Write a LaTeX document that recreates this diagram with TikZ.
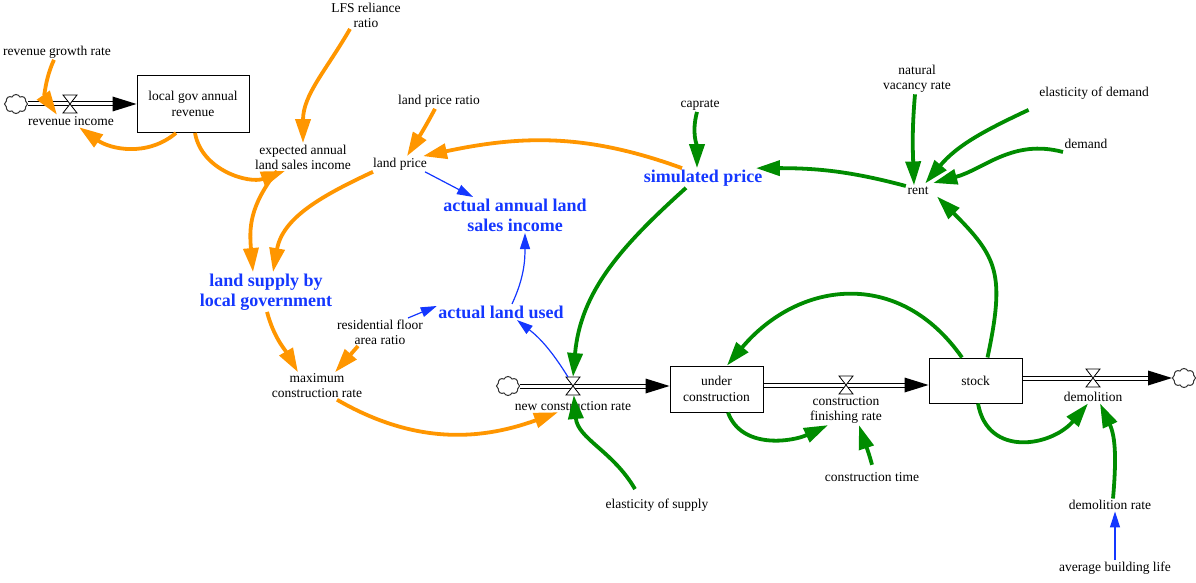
\documentclass[tikz,border=0pt]{standalone}
\usepackage{fontspec}
\setmainfont{Liberation Serif}
\usetikzlibrary{arrows.meta,shapes.symbols}
\definecolor{vorange}{RGB}{255,150,0}
\definecolor{vgreen}{RGB}{0,140,0}
\definecolor{vblue}{RGB}{20,55,255}
\tikzset{
 lbl/.style={font=\fontsize{13.5}{15}\selectfont, align=center, inner sep=1.5pt},
 blbl/.style={font=\fontsize{18}{20}\selectfont\bfseries, text=vblue, align=center, inner sep=1.5pt},
 stockbox/.style={draw, line width=1pt, font=\fontsize{13.5}{16}\selectfont, align=center},
 valve/.style={minimum width=14pt, minimum height=18pt, inner sep=0pt, outer sep=0pt},
 vcloud/.style={cloud, draw=black!80, cloud puffs=8, cloud puff arc=130, aspect=1.15, minimum width=23pt, minimum height=19pt, inner sep=0pt, line width=1pt},
 pipe/.style={double=white, double distance=3pt, line width=1pt},
 oarr/.style={draw=vorange, line width=3.8pt, -{Triangle[length=24pt,width=15pt]}},
 garr/.style={draw=vgreen, line width=3.8pt, -{Triangle[length=24pt,width=15pt]}},
 barr/.style={draw=vblue, line width=1.2pt, -{Triangle[length=16pt,width=10pt]}},
}
\begin{document}
\begin{tikzpicture}[x=1pt,y=1pt]
\useasboundingbox (0,0) rectangle (1196,582);
% labels
\node[lbl] (rgr) at (57,530) {revenue growth rate};
\node[lbl] (ri) at (71,461) {revenue income};
\node[stockbox, minimum width=112pt, minimum height=57pt] (lgar) at (193,478) {local gov annual\\revenue};
\node[lbl] (LFS) at (366,567) {LFS reliance\\ratio};
\node[lbl] (eal) at (303,425) {expected annual\\land sales income};
\node[lbl] (lpr) at (439,481) {land price ratio};
\node[lbl] (lp) at (400,418) {land price};
\node[lbl] (caprate) at (700,477) {caprate};
\node[blbl] (sp) at (703,404) {simulated price};
\node[lbl] (nvr) at (917,503) {natural\\vacancy rate};
\node[lbl] (eod) at (1094,489) {elasticity of demand};
\node[lbl] (demand) at (1086,438) {demand};
\node[lbl] (rent) at (918,391) {rent};
\node[blbl] (aals) at (515,367) {actual annual land\\sales income};
\node[blbl] (lsg) at (266,290) {land supply by\\local government};
\node[blbl] (alu) at (501,270) {actual land used};
\node[lbl] (rfar) at (380,250) {residential floor\\area ratio};
\node[lbl] (mcr) at (317,196) {maximum\\construction rate};
\node[lbl] (ncr) at (573,176) {new construction rate};
\node[stockbox, minimum width=93pt, minimum height=46pt] (uc) at (716.5,193) {under\\construction};
\node[lbl] (cfr) at (846,172) {construction\\finishing rate};
\node[stockbox, minimum width=93pt, minimum height=45pt] (stock) at (975.5,201.5) {stock};
\node[lbl] (dem) at (1093,185) {demolition};
\node[lbl] (ct) at (872,105) {construction time};
\node[lbl] (eos) at (657,77) {elasticity of supply};
\node[lbl] (dr) at (1110,77) {demolition rate};
\node[lbl] (abl) at (1115,14) {average building life};
% valves and clouds
\node[valve] (v1) at (70,478) {};
\node[valve] (v2) at (573,196) {};
\node[valve] (v3) at (846,197) {};
\node[valve] (v4) at (1093,204) {};
\node[vcloud] (cloud1) at (16,478) {};
\node[vcloud] (cloud2) at (508,196) {};
\node[vcloud] (cloud3) at (1184,204) {};
\coordinate (uc-in) at (uc.west |- v2);
\coordinate (uc-out) at (uc.east |- v3);
\coordinate (st-in) at (stock.west |- v3);
\coordinate (st-out) at (stock.east |- v4);
% pipes
\draw[pipe] (cloud1.east) -- ([xshift=-20pt]lgar.west);
\fill ([shift={(-24pt,7.5pt)}]lgar.west) -- (lgar.west) -- ([shift={(-24pt,-7.5pt)}]lgar.west) -- cycle;
\draw[pipe] (cloud2.east) -- ([xshift=-20pt]uc-in);
\fill ([shift={(-24pt,7.5pt)}]uc-in) -- (uc-in) -- ([shift={(-24pt,-7.5pt)}]uc-in) -- cycle;
\draw[pipe] (uc-out) -- ([xshift=-20pt]st-in);
\fill ([shift={(-24pt,7.5pt)}]st-in) -- (st-in) -- ([shift={(-24pt,-7.5pt)}]st-in) -- cycle;
\draw[pipe] (st-out) -- ([xshift=-20pt]cloud3.west);
\fill ([shift={(-24pt,7.5pt)}]cloud3.west) -- (cloud3.west) -- ([shift={(-24pt,-7.5pt)}]cloud3.west) -- cycle;
\foreach \v in {v1,v2,v3,v4}
  \filldraw[fill=white, line width=0.8pt] (\v.north west) -- (\v.north east) -- (\v.south west) -- (\v.south east) -- cycle;
% orange links
\draw[oarr] ([xshift=-3pt]rgr.south) to[out=245,in=125] ([xshift=-14pt]ri.north);
\draw[oarr] ([xshift=-17pt]lgar.south) to[out=220,in=-35] ([xshift=8pt]ri.south);
\draw[oarr] ([xshift=2pt]lgar.south) to[out=-80,in=200] ([xshift=-18pt]eal.south);
\draw[oarr] ([xshift=-16pt]LFS.south) to[out=240,in=90] (eal.north);
\draw[oarr] ([xshift=-26pt]eal.south) to[out=232,in=95,looseness=1.1] ([xshift=-13pt]lsg.north);
\draw[oarr] ([xshift=-27pt]lp.south) to[out=205,in=80] ([xshift=7pt]lsg.north);
\draw[oarr] ([xshift=-4pt]lpr.south) to[out=242,in=58] ([xshift=7pt]lp.north);
\draw[oarr] ([xshift=-21pt]sp.north) to[out=160,in=12] ([xshift=23pt]lp.north);
\draw[oarr] ([xshift=1pt]lsg.south) to[out=-75,in=120] ([xshift=-19pt]mcr.north);
\draw[oarr] ([xshift=-22pt]rfar.south) -- ([xshift=18pt]mcr.north);
\draw[oarr] ([xshift=20pt]mcr.south) to[out=-30,in=200] ([xshift=-15pt]ncr.south);
% blue links
\draw[barr] ([xshift=25pt]lp.south) -- ([xshift=-42pt]aals.north);
\draw[barr] ([xshift=11pt]alu.north) to[out=65,in=-90] ([xshift=10pt]aals.south);
\draw[barr] ([xshift=28pt]rfar.north) -- ([yshift=6pt]alu.west);
\draw[barr] ([xshift=-5pt]v2.north) to[bend right=10] ([xshift=16pt]alu.south);
\draw[barr] (abl.north) -- ([xshift=5pt]dr.south);
% green links
\draw[garr] ([xshift=-3pt]caprate.south) to[out=255,in=90] ([xshift=-6pt]sp.north);
\draw[garr] ([yshift=5pt]rent.west) to[out=165,in=0] ([xshift=-8pt]sp.north east);
\draw[garr] ([xshift=-2pt]nvr.south) to[out=265,in=92] ([xshift=-4pt]rent.north);
\draw[garr] ([shift={(-9pt,-9pt)}]eod.south west) to[out=205,in=50] ([shift={(-5pt,2pt)}]rent.north east);
\draw[garr] ([yshift=-8pt]demand.west) to[out=165,in=15] ([shift={(3pt,8pt)}]rent.east);
\draw[garr] ([xshift=12pt]stock.north) to[out=78,in=-45,looseness=1.3] ([xshift=19pt]rent.south);
\draw[garr] ([xshift=-13.5pt]stock.north) to[out=125,in=50,looseness=1.2] ([xshift=10.5pt]uc.north);
\draw[garr] ([xshift=-17pt]sp.south) to[out=222,in=85] (v2.north);
\draw[garr] ([shift={(-22pt,8pt)}]eos.north) to[out=120,in=-85] (v2);
\draw[garr] ([xshift=11.5pt]uc.south) to[out=-70,in=205] ([xshift=-18pt]cfr.south);
\draw[garr] ([yshift=6pt]ct.north) to[out=105,in=-72] ([xshift=13pt]cfr.south);
\draw[garr] ([xshift=2.5pt]stock.south) to[out=-80,in=230,looseness=1.3] ([xshift=-5pt]dem.south);
\draw[garr] ([xshift=3pt]dr.north) to[out=85,in=-65] ([xshift=7pt]dem.south);
\end{tikzpicture}
\end{document}
